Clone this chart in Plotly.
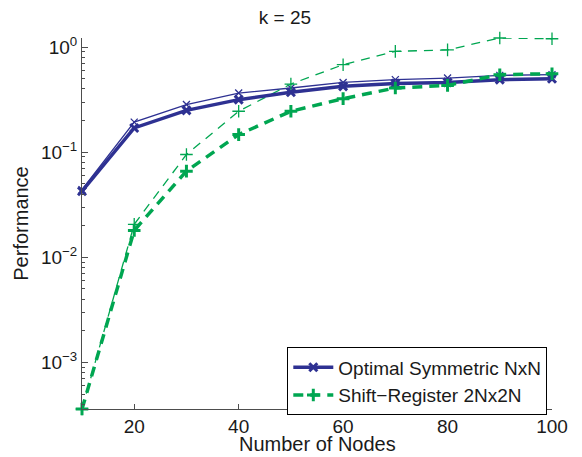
import numpy as np
import plotly.graph_objects as go

# Number of nodes on the horizontal axis
nodes = [10, 20, 30, 40, 50, 60, 70, 80, 90, 100]

# Optimal symmetric NxN: lower (thick) and upper (thin) curves
optimal_lo = [0.0425, 0.170, 0.250, 0.316, 0.372, 0.423, 0.449, 0.461, 0.490, 0.500]
optimal_hi = [0.044, 0.193, 0.284, 0.365, 0.408, 0.461, 0.490, 0.507, 0.538, 0.546]

# Shift-register 2Nx2N: lower (thick) and upper (thin) curves
shift_lo = [3.6e-4, 0.0180, 0.066, 0.147, 0.245, 0.323, 0.408, 0.432, 0.546, 0.558]
shift_hi = [3.6e-4, 0.0206, 0.095, 0.245, 0.445, 0.680, 0.910, 0.940, 1.220, 1.200]

x_ticks = [20, 40, 60, 80, 100]
y_ticks = [1e-3, 1e-2, 1e-1, 1e0]
y_ticktext = ["10<sup>−3</sup>", "10<sup>−2</sup>", "10<sup>−1</sup>", "10<sup>0</sup>"]

BLUE = "#2e3192"
GREEN = "#00a651"
TEXT = "#1a1a1a"
AXIS = "#4d4d4d"
FONT = "Liberation Sans, Arial, sans-serif"

fig = go.Figure()

# thin companion curves (no legend entries)
fig.add_trace(go.Scatter(
    x=nodes, y=optimal_hi, mode="lines+markers", showlegend=False,
    line=dict(color=BLUE, width=1.3),
    marker=dict(symbol="x-thin", size=7, line=dict(color=BLUE, width=1.3)),
    cliponaxis=False,
))
fig.add_trace(go.Scatter(
    x=nodes, y=shift_hi, mode="lines+markers", showlegend=False,
    line=dict(color=GREEN, width=1.3, dash="9px,7px"),
    marker=dict(symbol="cross-thin", size=9, line=dict(color=GREEN, width=1.3)),
    cliponaxis=False,
))

# thick main curves
fig.add_trace(go.Scatter(
    x=nodes, y=optimal_lo, mode="lines+markers", name="Optimal Symmetric NxN",
    line=dict(color=BLUE, width=3.5),
    marker=dict(symbol="x-thin", size=8, line=dict(color=BLUE, width=3)),
    cliponaxis=False,
))
fig.add_trace(go.Scatter(
    x=nodes, y=shift_lo, mode="lines+markers", name="Shift\u2212Register 2Nx2N",
    line=dict(color=GREEN, width=3.5, dash="10px,7px"),
    marker=dict(symbol="cross-thin", size=9, line=dict(color=GREEN, width=3)),
    cliponaxis=False,
))

all_y = optimal_lo + optimal_hi + shift_lo + shift_hi
y_range = [np.log10(min(all_y)), np.log10(max(all_y))]

fig.update_layout(
    width=582, height=457,
    margin=dict(l=82, r=30, t=38, b=48),
    paper_bgcolor="white", plot_bgcolor="white",
    font=dict(family=FONT, size=19, color=TEXT),
    title=dict(text="k = 25", x=285 / 582, xref="container", xanchor="center",
               y=1 - 17 / 457, yref="container", yanchor="middle",
               font=dict(size=19, color=TEXT)),
    showlegend=True,
    legend=dict(
        x=0.99, y=0.166, xanchor="right", yanchor="top",
        bgcolor="white", bordercolor="black", borderwidth=1,
        font=dict(size=19, color=TEXT),
        tracegroupgap=0, itemwidth=40,
    ),
    annotations=[dict(
        text="Number of Nodes", xref="paper", yref="paper",
        x=0.5, y=-0.128, xanchor="center", yanchor="bottom",
        borderpad=0, showarrow=False, font=dict(size=20, color=TEXT),
    )],
)

fig.update_xaxes(
    range=[min(nodes), max(nodes)], automargin=False,
    tickvals=x_ticks, ticks="inside", ticklen=5, tickcolor=AXIS,
    ticklabelstandoff=0,
    showline=True, linecolor=AXIS, linewidth=1, showgrid=False, zeroline=False,
    tickfont=dict(size=19, color=TEXT),
)

fig.update_yaxes(
    type="log", range=y_range, automargin=False,
    tickvals=y_ticks, ticktext=y_ticktext,
    ticks="inside", ticklen=6, tickcolor=AXIS,
    minor=dict(ticks="inside", ticklen=3, tickcolor=AXIS, dtick="D1", showgrid=False),
    showline=True, linecolor=AXIS, linewidth=1, showgrid=False, zeroline=False,
    tickfont=dict(size=19, color=TEXT),
    title=dict(text="Performance", font=dict(size=20, color=TEXT), standoff=6),
)

fig.write_html("out.html")
